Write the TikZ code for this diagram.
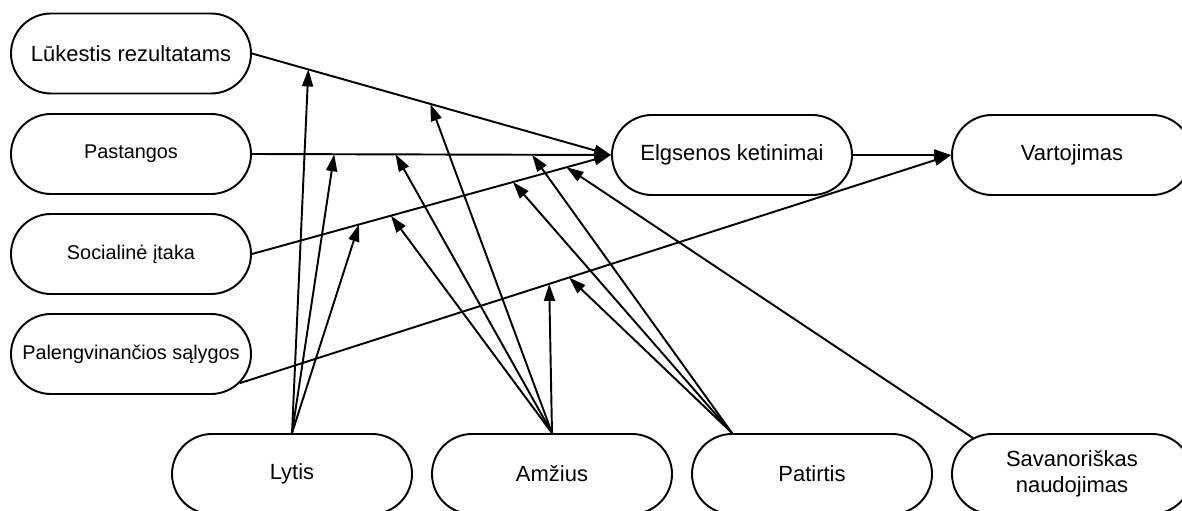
\documentclass[tikz,border=0pt]{standalone}
\usepackage{fontspec}
\setmainfont{Liberation Sans}
\usetikzlibrary{shapes.misc,arrows.meta}
\begin{document}
\begin{tikzpicture}[
    box/.style={draw, line width=1.1pt, rounded rectangle, minimum width=4.8cm,
      minimum height=1.6cm, inner sep=0pt, align=center,
      font=\fontsize{12.5}{15}\selectfont},
    smallbox/.style={box, font=\fontsize{11.3}{13.5}\selectfont},
    arr/.style={-{Triangle[length=3.4mm,width=2.2mm]}, line width=1.1pt}
  ]
  \useasboundingbox (0,0) rectangle (23.64,10.22);
  \draw
    (2.62,9.15) node[box] (luk) {Lūkestis rezultatams}
    (2.62,7.14) node[smallbox] (pas) {Pastangos}
    (2.62,5.14) node[smallbox] (soc) {Socialinė įtaka}
    (2.62,3.14) node[smallbox] (pal) {Palengvinančios sąlygos}
    (14.64,7.12) node[box] (elg) {Elgsenos ketinimai}
    (21.44,7.12) node[box] (vart) {Vartojimas}
    (5.84,0.74) node[box] (lyt) {Lytis}
    (11.04,0.74) node[box] (amz) {Amžius}
    (16.24,0.74) node[box] (pat) {Patirtis}
    (21.44,0.74) node[box] (sav) {Savanoriškas\\naudojimas};
  \begin{scope}[arr]
    \draw (luk.east) -- (elg.west)
      coordinate[pos=0.157] (luk1) coordinate[pos=0.497] (luk2);
    \draw (pas.east) -- (elg.west)
      coordinate[pos=0.229] (pas1) coordinate[pos=0.40] (pas2)
      coordinate[pos=0.78] (pas3);
    \draw (soc.east) -- (elg.west)
      coordinate[pos=0.298] (soc1) coordinate[pos=0.387] (soc2)
      coordinate[pos=0.727] (soc3) coordinate[pos=0.876] (soc4);
    \draw (pal.-15) -- (vart.west)
      coordinate[pos=0.435] (pal1) coordinate[pos=0.463] (pal2);
    \draw (elg.east) -- (vart.west);
    \draw (lyt.north) to (luk1);
    \draw (lyt.north) to (pas1);
    \draw (lyt.north) to (soc1);
    \draw (amz.north) to (luk2);
    \draw (amz.north) to (pas2);
    \draw (amz.north) to (soc2);
    \draw (amz.north) to (pal1);
    \draw ([xshift=-1.6cm]pat.north) to (pas3);
    \draw ([xshift=-1.6cm]pat.north) to (soc3);
    \draw ([xshift=-1.6cm]pat.north) to (pal2);
    \draw (sav.160) to (soc4);
  \end{scope}
\end{tikzpicture}
\end{document}
